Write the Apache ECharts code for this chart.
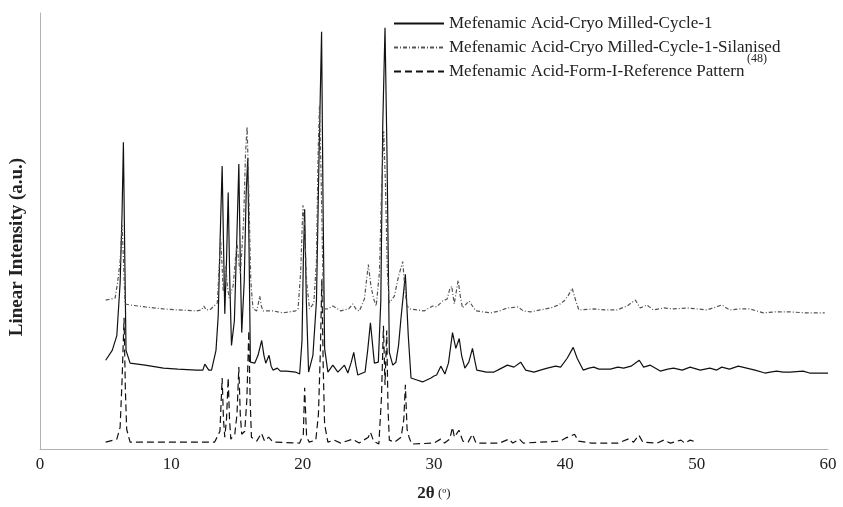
<!DOCTYPE html>
<html>
<head>
<meta charset="utf-8">
<script src="https://cdn.jsdelivr.net/npm/echarts@6/dist/echarts.min.js"></script>
<style>
  html, body { margin: 0; padding: 0; background: #fff; }
  #chart { width: 843px; height: 507px; }
</style>
</head>
<body>
<div id="chart"></div>
<script>
//x轴刻度
var xTicks = [0, 10, 20, 30, 40, 50, 60];

//图例名称
var names = [
    'Mefenamic Acid-Cryo Milled-Cycle-1',
    'Mefenamic Acid-Cryo Milled-Cycle-1-Silanised',
    'Mefenamic Acid-Form-I-Reference Pattern'
];

//Cycle-1 (实线) [2θ, 强度]
var cycle1 = [
    [5.0,90],[5.5,100],[5.85,115],[6.1,168],[6.25,240],[6.35,311],[6.45,200],[6.55,100],[6.86,87],
    [8,85],[9.4,82],[10.5,81],[11.9,80],[12.4,80],[12.55,86],[12.7,87],[12.85,80],[13.06,80],
    [13.4,100],[13.57,135],[13.75,230],[13.87,287],[13.97,210],[14.07,137],[14.2,190],[14.33,260],
    [14.45,170],[14.58,105],[14.8,130],[15.0,220],[15.14,289],[15.25,190],[15.36,118],[15.55,170],
    [15.7,260],[15.82,295],[15.92,200],[16.02,88],[16.35,87],[16.6,95],[16.88,110],[17.05,95],
    [17.19,87],[17.44,95],[17.6,84],[17.74,80],[18.07,82],[18.3,79],[18.76,79],[19.46,78],[19.77,76],
    [19.95,110],[20.05,190],[20.15,243],[20.28,150],[20.45,78],[20.78,95],[21.05,150],[21.25,300],
    [21.44,423],[21.55,250],[21.67,102],[21.92,78],[22.3,85],[22.68,78],[23.18,85],[23.44,77],
    [23.7,88],[23.89,98],[24.05,85],[24.2,75],[24.75,78],[24.95,100],[25.16,128],[25.46,87],
    [25.76,88],[25.95,150],[26.1,330],[26.27,427],[26.42,300],[26.6,98],[26.86,85],[27.1,88],
    [27.3,105],[27.49,133],[27.82,177],[28.04,115],[28.25,72],[28.7,70],[29.13,68],[29.77,72],
    [30.0,74],[30.2,75],[30.52,84],[30.83,76],[31.1,87],[31.41,118],[31.66,102],[31.92,112],
    [32.1,95],[32.35,82],[32.65,88],[32.93,102],[33.1,90],[33.26,80],[34.0,78],[34.57,78],
    [35.0,81],[35.59,85],[36.09,83],[36.6,88],[36.98,80],[37.61,78],[38.1,80],[38.63,82],
    [39.26,84],[39.64,83],[40.14,92],[40.6,103],[40.9,92],[41.36,80],[41.8,82],[42.17,83],
    [42.55,81],[43.43,81],[44.0,83],[44.44,82],[45.0,84],[45.63,90],[45.96,83],[46.47,85],
    [47.23,79],[47.8,81],[48.24,82],[48.9,80],[49.5,83],[50.27,80],[51.0,82],[51.53,80],
    [51.91,83],[52.5,81],[53.17,84],[53.81,82],[54.44,80],[55.2,77],[55.6,78],[56.09,79],
    [56.6,78],[57.1,78],[58.1,79],[58.6,77],[59.13,77],[60,77]
];

//Cycle-1-Silanised (点划线)
var silanised = [
    [5.0,151],[5.72,153],[5.9,168],[6.1,190],[6.25,227],[6.36,190],[6.48,147],[6.86,146],
    [8,144],[9.39,142],[10.5,141],[11.92,140],[12.3,141],[12.48,145],[12.65,141],[12.93,141],
    [13.06,142],[13.5,148],[13.65,185],[13.74,215],[13.85,190],[13.95,160],[14.05,175],[14.15,185],
    [14.27,165],[14.4,153],[14.7,165],[14.9,195],[15.01,208],[15.13,190],[15.26,178],[15.5,230],
    [15.65,300],[15.77,327],[15.9,260],[16.05,170],[16.22,142],[16.5,140],[16.63,148],[16.73,155],
    [16.85,145],[16.99,140],[17.74,140],[18.5,138],[19.46,140],[19.65,142],[19.85,180],[20.02,247],
    [20.15,225],[20.3,170],[20.52,142],[20.85,148],[21.05,190],[21.18,300],[21.28,348],[21.4,280],
    [21.55,170],[21.67,142],[21.9,142],[22.3,145],[22.9,140],[23.5,142],[23.82,147],[24.1,141],
    [24.32,140],[24.7,152],[25.0,187],[25.2,165],[25.41,152],[25.6,145],[25.85,180],[26.0,260],
    [26.17,322],[26.3,270],[26.45,180],[26.6,148],[26.98,155],[27.3,175],[27.62,190],[27.8,160],
    [27.94,145],[28.2,142],[29.26,140],[29.9,145],[30.2,144],[30.65,150],[31.0,152],[31.2,162],
    [31.35,165],[31.54,147],[31.84,171],[32.0,155],[32.17,143],[32.67,150],[33.18,140],[34.32,138],
    [35.0,140],[35.59,143],[36.4,144],[36.8,140],[37.36,139],[38.1,141],[38.88,143],[39.5,146],
    [39.89,150],[40.2,155],[40.52,163],[40.8,150],[41.03,141],[42.2,142],[43.0,141],[43.94,141],
    [44.7,145],[45.33,151],[45.7,143],[46.21,146],[46.7,141],[47.5,143],[48.24,142],[49.3,143],
    [50.0,142],[50.77,141],[51.5,144],[51.91,146],[52.5,141],[53.3,142],[54.06,142],[55.07,138],
    [56,139],[57.1,139],[58.3,138],[59.5,138],[59.75,138]
];

//Form-I 参考图谱 (虚线)
var reference = [
    [5.0,7],[5.85,10],[6.1,22],[6.25,70],[6.4,133],[6.5,60],[6.6,20],[6.86,7],[13.3,7],[13.7,18],
    [13.87,72],[13.97,30],[14.07,12],[14.2,30],[14.33,72],[14.43,30],[14.53,10],[14.83,15],[15.0,35],
    [15.14,83],[15.25,35],[15.36,15],[15.59,18],[15.75,50],[15.9,120],[16.0,50],[16.1,12],[16.5,8],
    [16.86,16],[17.1,8],[17.41,12],[17.74,7],[19.77,6],[20.05,15],[20.15,62],[20.3,12],[20.5,7],
    [21.0,9],[21.2,35],[21.35,100],[21.46,172],[21.57,80],[21.67,25],[21.92,7],[22.4,9],[22.9,6],
    [23.8,10],[24.3,6],[25.0,12],[25.16,17],[25.4,8],[25.8,5],[26.0,52],[26.15,125],[26.27,65],
    [26.4,120],[26.5,40],[26.6,9],[27.0,7],[27.5,12],[27.7,30],[27.82,65],[27.95,20],[28.1,12],
    [28.3,5],[30.0,6],[30.5,10],[30.8,6],[31.2,10],[31.41,22],[31.55,12],[31.66,12],[31.9,19],
    [32.2,8],[32.6,7],[32.93,15],[33.2,6],[35.0,6],[35.7,10],[36.0,6],[36.5,10],[36.8,6],[39.64,8],
    [40.0,11],[40.4,13],[40.7,15],[41.0,8],[42,6],[44.0,6],[44.77,10],[45.2,7],[45.6,14],[45.9,7],
    [47.0,6],[47.5,9],[48.0,6],[48.8,9],[49.1,6],[49.5,9],[50.0,7]
];

var serif = '"Liberation Serif", "DejaVu Serif", serif';

var chart = echarts.init(document.getElementById('chart'));

function line(name, data, color, type) {
    return {
        name: name,
        type: 'line',
        data: data,
        symbol: 'none',
        smooth: false,
        animation: false,
        lineStyle: { color: color, width: 1.2, type: type },
        itemStyle: { color: color }
    };
}

chart.setOption({
    animation: false,
    grid: { left: 38, right: 15, top: 13, bottom: 52 },
    legend: {
        orient: 'vertical',
        left: 388,
        top: 10,
        itemWidth: 50,
        itemHeight: 14,
        itemGap: 7,
        itemStyle: { color: 'rgba(0,0,0,0)', borderWidth: 0, opacity: 0 },
        textStyle: { fontFamily: serif, fontSize: 17, color: '#222' },
        data: names
    },
    xAxis: {
        type: 'value',
        min: xTicks[0],
        max: xTicks[xTicks.length - 1],
        interval: 10,
        name: '{b|2θ} {n|(º)}',
        nameLocation: 'middle',
        nameGap: 36,
        nameTextStyle: {
            rich: {
                b: { fontFamily: serif, fontSize: 17, fontWeight: 'bold', color: '#222' },
                n: { fontFamily: serif, fontSize: 13, color: '#222' }
            }
        },
        axisLine: { lineStyle: { color: '#b3b3b3', width: 1 } },
        axisTick: { show: false },
        splitLine: { show: false },
        axisLabel: { fontFamily: serif, fontSize: 17, color: '#222', margin: 7 }
    },
    yAxis: {
        type: 'value',
        min: 0,
        max: 442,
        name: 'Linear Intensity (a.u.)',
        nameLocation: 'middle',
        nameGap: 13,
        nameTextStyle: {
            fontFamily: serif, fontSize: 19, fontWeight: 'bold', color: '#222',
            padding: [0, 32, 0, 0]
        },
        axisLine: { show: true, lineStyle: { color: '#b3b3b3', width: 1 } },
        axisTick: { show: false },
        axisLabel: { show: false },
        splitLine: { show: false }
    },
    graphic: [{
        type: 'text',
        left: 747,
        top: 53,
        style: { text: '(48)', fontFamily: serif, fontSize: 12, fill: '#222' }
    }],
    series: [
        line(names[0], cycle1, '#111', 'solid'),
        line(names[1], silanised, '#555', [4, 2, 1, 2]),
        line(names[2], reference, '#111', [7, 4])
    ]
});
</script>
</body>
</html>
